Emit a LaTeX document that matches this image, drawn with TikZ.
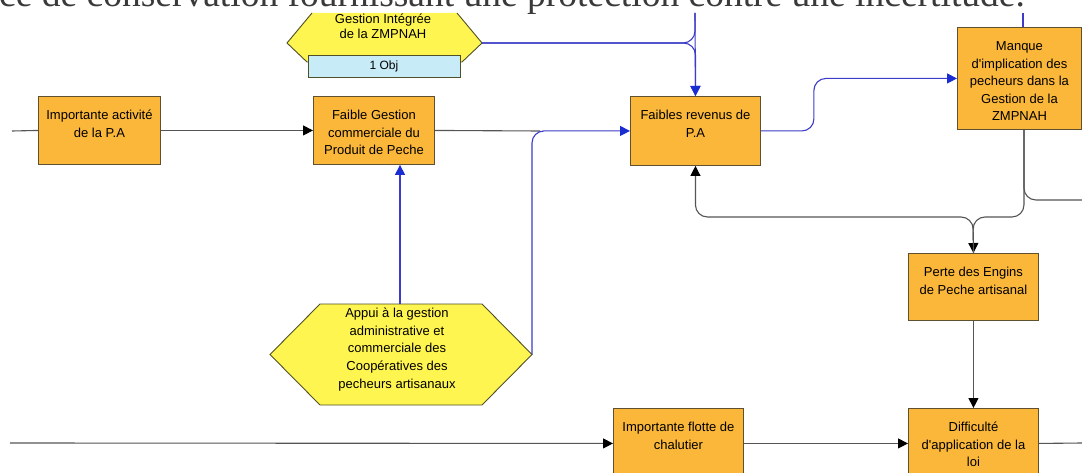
\documentclass[tikz,border=0pt]{standalone}
\usepackage{fontspec}
\setmainfont{Liberation Sans}[Ligatures=TeXOff]
\newfontfamily\capserif{Liberation Serif}
\usetikzlibrary{arrows.meta,calc}
\definecolor{boxor}{RGB}{251,183,58}
\definecolor{boxed}{RGB}{95,80,50}
\definecolor{hexy}{RGB}{255,245,80}
\definecolor{hexed}{RGB}{80,80,40}
\definecolor{objb}{RGB}{200,235,248}
\definecolor{bline}{RGB}{60,60,200}
\definecolor{btip}{RGB}{25,45,210}
\definecolor{gline}{RGB}{85,85,85}
\definecolor{captxt}{RGB}{58,58,58}
\newcommand\boxfont{\fontsize{13}{17.5}\selectfont}
\newcommand\bxt[3]{\parbox[t][\dimexpr #2pt-22.5pt\relax][t]{#1pt}{\centering\strut #3}}
\begin{document}
\begin{tikzpicture}[x=1pt,y=-1pt,
  box/.style={draw=boxed, fill=boxor, line width=0.9pt, inner xsep=0pt, inner ysep=11.25pt, anchor=north west, font=\boxfont},
  hexs/.style={fill=hexy},
  hexline/.style={draw=hexed, line width=0.9pt},
  hextext/.style={align=center, inner sep=0pt},
  objbox/.style={draw=hexed, fill=objb, line width=0.9pt, minimum width=152pt, minimum height=22pt, inner sep=0pt, font=\fontsize{12}{14}\selectfont},
  bl/.style={draw=bline, line width=1.1pt},
  gl/.style={draw=gline, line width=1.1pt},
  arbl/.style={-{Triangle[length=10pt,width=10pt,color=btip]}},
  arb/.style={-{Triangle[length=10pt,width=10pt,color=black]}}
]
\useasboundingbox (0,0) rectangle (1082,473);
\clip (0,0) rectangle (1082,473);
\fill[white] (0,0) rectangle (1082,473);

% caption line of the page (cut at the top)
\node[anchor=base west, inner sep=0pt, text=captxt, font=\capserif\fontsize{37.5}{40}\selectfont] (cap) at (-1,7) {ce de conservation fournissant une protection contre une incertitude.};

% free ends
\coordinate (t1) at (695,13);
\coordinate (t2) at (1023,13);
\coordinate (L1) at (12,131);
\coordinate (L2) at (10,443);
\coordinate (R1) at (1082,200);
\coordinate (R2) at (1082,443);
\coordinate (m1) at (540,131);
\coordinate (jn) at (973,217);

% Gestion integree hexagon (cut at the top)
\fill[hexs] (312,13) -- (287,43) -- (307,62) -- (462,62) -- (482,43) -- (457,13) -- cycle;
\draw[hexline] (312,13) -- (287,43) -- (307,62) -- (462,62) -- (482,43) -- (457,13);
\coordinate (ghE) at (482,43);
\node[hextext, font=\fontsize{13}{15}\selectfont] (gh) at (383,26.5) {Gestion Intégrée\\de la ZMPNAH};
\node[objbox] (obj) at (384,66) {1 Obj};

% Appui hexagon
\coordinate (apC) at (401,354.5);
\draw[hexs, hexline] ($(apC)+(-131,0)$) -- ++(50,-50.5) -- ++(162,0) -- ++(50,50.5) -- ++(-50,50.5) -- ++(-162,0) -- cycle;
\coordinate (apN) at (400,304);
\coordinate (apE) at (532,354.5);
\node[hextext, font=\fontsize{13}{17.75}\selectfont] (ap) at (397,349.5) {Appui à la gestion\\administrative et\\commerciale des\\Coopératives des\\pecheurs artisanaux};

% boxes
\node[box] (act) at (38,96) {\bxt{122}{68}{Importante activité\\de la P.A}};
\node[box] (fg) at (313,96) {\bxt{121}{68}{Faible Gestion\\commerciale du\\Produit de Peche}};
\node[box] (fr) at (630,96) {\bxt{130}{69}{Faibles revenus de\\P.A}};
\node[box] (mq) at (957,27) {\bxt{124}{102}{Manque\\d'implication des\\pecheurs dans la\\Gestion de la\\ZMPNAH}};
\node[box] (pe) at (908,253) {\bxt{130}{67}{Perte des Engins\\de Peche artisanal}};
\node[box] (fl) at (613,408) {\bxt{130}{70}{Importante flotte de\\chalutier}};
\node[box] (di) at (908,408) {\bxt{130}{70}{Difficulté\\d'application de la\\loi}};
\coordinate (mqS) at ([xshift=4.5pt]mq.south);

% connectors
\draw[gl] (L1) -- (act.west);
\draw[gl,arb] (act.east) -- (fg.west);
\draw[gl] (fg.east) -- (m1);
\draw[bl,arbl,rounded corners=12pt] (apE) |- (fr.west);
\draw[bl,arbl] (apN) -- (apN |- fg.south);
\draw[bl,rounded corners=12pt] (ghE) -| (t1);
\draw[bl,arbl,rounded corners=12pt] (ghE) -| (fr.north);
\draw[bl,arbl] (t1) -- (fr.north);
\draw[bl,arbl,rounded corners=12pt] (fr.east) -- ++(53,0) |- (mq.west);
\draw[bl] (t2) -- (t2 |- mq.north);
\draw[gl,arb,rounded corners=12pt] (mqS) |- (jn) -- (pe.north);
\draw[gl,arb,rounded corners=12pt] (pe.north) -- (jn) -| (fr.south);
\draw[gl,rounded corners=12pt] (mqS) |- (R1);
\draw[gl,arb] (pe.south) -- (di.north);
\draw[gl,arb] (L2) -- (fl.west);
\draw[gl,arb] (fl.east) -- (di.west);
\draw[gl] (di.east) -- (R2);
\end{tikzpicture}
\end{document}
